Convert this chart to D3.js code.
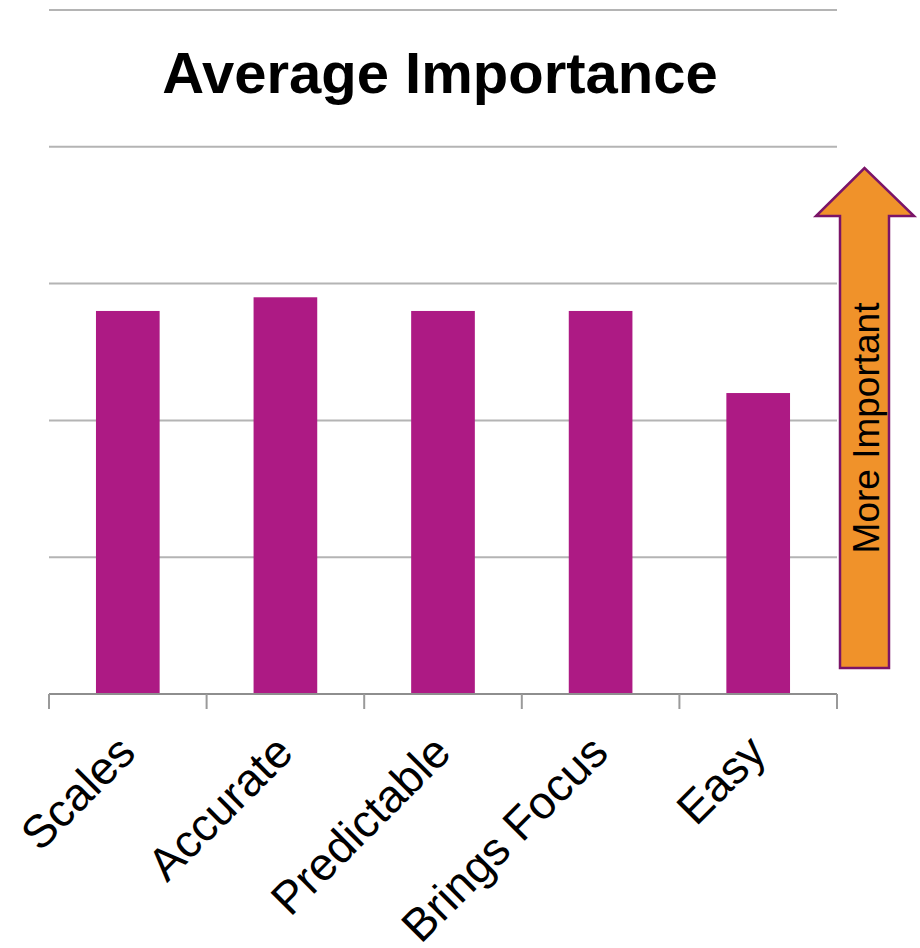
<!DOCTYPE html>
<html>
<head>
<meta charset="utf-8">
<script src="https://cdn.jsdelivr.net/npm/d3@7"></script>
<style>
  html, body { margin: 0; padding: 0; background: #fff; }
  svg { display: block; font-family: "Liberation Sans", Arial, Helvetica, sans-serif; }
</style>
</head>
<body>
<div id="chart"></div>
<script>
// Survey results: mean importance rating per criterion
const categories = ["Scales", "Accurate", "Predictable", "Brings Focus", "Easy"];
const values = [2.8, 2.9, 2.8, 2.8, 2.2];
const yTicks = [0, 1, 2, 3, 4, 5];
const chartTitle = "Average Importance";
const arrowLabel = "More Important";

const W = 920, H = 948;
const plotLeft = 49, plotRight = 837, plotTop = 10, plotBottom = 694;

const svg = d3.select("#chart").append("svg")
  .attr("width", W)
  .attr("height", H);

const x = d3.scaleBand()
  .domain(categories)
  .range([plotLeft, plotRight])
  .paddingInner(0.596)
  .paddingOuter(0.298);

const y = d3.scaleLinear()
  .domain([0, 5])
  .range([plotBottom, plotTop]);

// Horizontal gridlines
svg.append("g")
  .selectAll("line")
  .data(yTicks.filter(d => d > 0))
  .join("line")
  .attr("x1", plotLeft)
  .attr("x2", plotRight)
  .attr("y1", d => y(d))
  .attr("y2", d => y(d))
  .attr("stroke", "#b4b4b4")
  .attr("stroke-width", 2);

// Bars
svg.append("g")
  .selectAll("rect")
  .data(categories.map((c, i) => ({ c, v: values[i] })))
  .join("rect")
  .attr("x", d => x(d.c))
  .attr("y", d => y(d.v))
  .attr("width", x.bandwidth())
  .attr("height", d => y(0) - y(d.v))
  .attr("fill", "#ad1a84");

// Category axis: baseline plus boundary ticks between categories
const step = x.step();
const boundaries = d3.range(categories.length + 1).map(i => plotLeft + i * step);
const axis = svg.append("g");
axis.append("line")
  .attr("x1", plotLeft).attr("x2", plotRight)
  .attr("y1", y(0)).attr("y2", y(0))
  .attr("stroke", "#8e8e8e").attr("stroke-width", 2);
axis.selectAll("line.tick")
  .data(boundaries)
  .join("line")
  .attr("class", "tick")
  .attr("x1", d => d).attr("x2", d => d)
  .attr("y1", y(0)).attr("y2", y(0) + 15)
  .attr("stroke", "#9a9a9a").attr("stroke-width", 2);

// Rotated category labels
axis.selectAll("text")
  .data(categories)
  .join("text")
  .attr("transform", d => `translate(${x(d) + x.bandwidth() / 2 + 10},${y(0) + 61}) rotate(-45)`)
  .attr("text-anchor", "end")
  .attr("font-size", 46)
  .attr("fill", "#000")
  .text(d => d);

// Title
svg.append("text")
  .attr("x", (plotLeft + plotRight) / 2 - 3)
  .attr("y", 93)
  .attr("text-anchor", "middle")
  .attr("font-size", 58)
  .attr("font-weight", "bold")
  .attr("fill", "#000")
  .text(chartTitle);

// Direction arrow on the right
const arrow = svg.append("g");
const ax0 = 840, ax1 = 889, headL = 816, headR = 914, tipY = 168, headY = 216, baseY = 668;
arrow.append("path")
  .attr("d", d3.line()([
    [ax0, baseY], [ax0, headY], [headL, headY], [(ax0 + ax1) / 2, tipY],
    [headR, headY], [ax1, headY], [ax1, baseY]
  ]) + "Z")
  .attr("fill", "#f0922a")
  .attr("stroke", "#7b1468")
  .attr("stroke-width", 2.5)
  .attr("stroke-linejoin", "miter");
arrow.append("text")
  .attr("transform", `translate(879,428) rotate(-90)`)
  .attr("text-anchor", "middle")
  .attr("font-size", 37)
  .attr("fill", "#000")
  .text(arrowLabel);
</script>
</body>
</html>
